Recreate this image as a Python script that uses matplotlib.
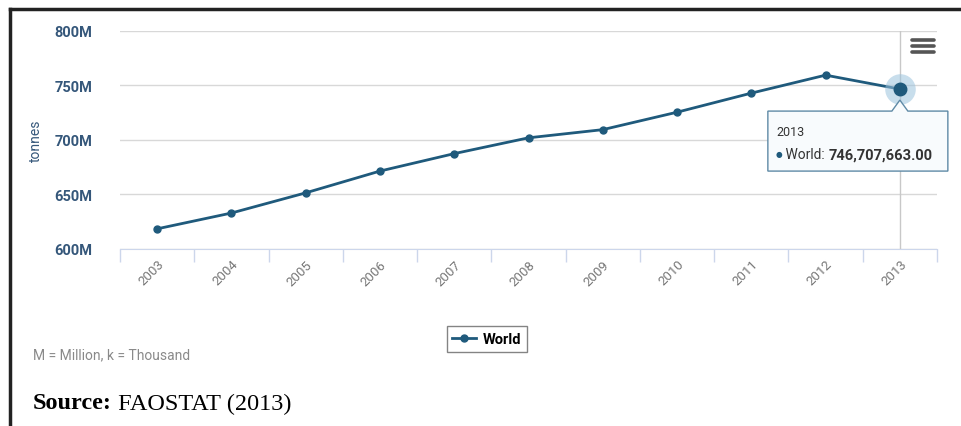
import matplotlib.pyplot as plt
import matplotlib.transforms as mtransforms
from matplotlib.patches import Polygon
from matplotlib.lines import Line2D

# data (tonnes)
years = ['2003', '2004', '2005', '2006', '2007', '2008',
         '2009', '2010', '2011', '2012', '2013']
world = [618.5e6, 633.0e6, 651.5e6, 671.5e6, 687.5e6, 702.0e6,
         709.5e6, 725.5e6, 743.0e6, 759.5e6, 746707663.0]
y_ticks = [600e6, 650e6, 700e6, 750e6, 800e6]
y_labels = ['600M', '650M', '700M', '750M', '800M']

plt.rcParams['font.family'] = ['Roboto', 'DejaVu Sans']

W, H = 961, 427
fig = plt.figure(figsize=(W / 100, H / 100), dpi=100)
ax = fig.add_axes([120 / W, 1 - 250 / H, (937 - 120) / W, (250 - 32) / H])

line_col = '#1f5a7c'
x = list(range(len(years)))
ax.plot(x, world, color=line_col, lw=2, marker='o', ms=5, label='World', zorder=3)

# hovered point (2013): crosshair + halo
hi = len(years) - 1
ax.axvline(hi, color='#c8c8c8', lw=1, zorder=1)
ax.plot([hi], [world[hi]], 'o', ms=22, color='#9cc3dd', alpha=0.55, mec='none', zorder=4)
ax.plot([hi], [world[hi]], 'o', ms=9, color=line_col, zorder=5)

ax.set_xlim(-0.5, len(years) - 0.5)
ax.set_ylim(600e6, 800e6)
ax.set_yticks(y_ticks)
ax.set_yticklabels(y_labels)
ax.set_xticks(x)
ax.set_xticklabels(years, rotation=45, ha='right', rotation_mode='anchor')
ax.set_xticks([i - 0.5 for i in range(len(years) + 1)], minor=True)

ax.grid(axis='y', color='#d8d8d8', lw=1)
ax.set_axisbelow(True)
for s in ['top', 'right', 'left']:
    ax.spines[s].set_visible(False)
ax.spines['bottom'].set_color('#ccd6eb')
ax.tick_params(axis='x', which='major', length=0, pad=6, labelsize=9.5, labelcolor='#777777')
ax.tick_params(axis='x', which='minor', length=9, color='#ccd6eb', width=1)
ax.tick_params(axis='y', length=0, pad=20, labelsize=10.5, labelcolor='#35577a')
for t in ax.get_yticklabels():
    t.set_fontweight('bold')
ax.set_ylabel('tonnes', color='#35577a', fontsize=10, labelpad=8)

# tooltip anchored to the hovered point, shape in inches
pt_trans = fig.dpi_scale_trans + mtransforms.ScaledTranslation(hi, world[hi], ax.transData)
tip = [(-1.32, -0.22), (-0.08, -0.22), (0.0, -0.11), (0.08, -0.22), (0.48, -0.22),
       (0.48, -0.82), (-1.32, -0.82)]
ax.add_patch(Polygon(tip, closed=True, transform=pt_trans, facecolor='#f8fbfd',
                     edgecolor='#5f8aa6', lw=1, zorder=6, clip_on=False))
ax.text(-1.23, -0.42, '2013', transform=pt_trans, fontsize=9, color='#333333',
        va='center', zorder=7)
dot = ax.text(-1.24, -0.65, '\u25cf', transform=pt_trans, fontsize=5.5, color=line_col,
              va='center', zorder=7)
lab = ax.annotate(' World: ', xy=(1, 0.5), xycoords=dot, fontsize=10, color='#333333',
                  va='center', zorder=7)
ax.annotate('746,707,663.00', xy=(1, 0.5), xycoords=lab, fontsize=10.5,
            fontweight='bold', color='#333333', va='center', zorder=7)

# hamburger menu icon
for yy in [41, 47, 53]:
    fig.add_artist(Line2D([912 / W, 934 / W], [1 - yy / H] * 2, color='#555555',
                          lw=2.6, solid_capstyle='round'))

leg = fig.legend(loc='center', bbox_to_anchor=(487 / W, 1 - 340 / H), fancybox=False,
                 edgecolor='#666666', handlelength=1.6, handletextpad=0.5,
                 borderpad=0.4, prop={'weight': 'bold', 'size': 10.5})
leg.get_frame().set_linewidth(1)

fig.text(33 / W, 1 - 355 / H, 'M = Million, k = Thousand', fontsize=10,
         color='#8a8a8a', va='center')
src = fig.text(33 / W, 1 - 404 / H, 'Source:', fontsize=17.5, fontweight='bold',
               family='Liberation Serif', va='center')
fig.add_artist(plt.Annotation(' FAOSTAT (2013)', xy=(1, 0.5), xycoords=src,
                              fontsize=17.5, family='Liberation Serif', va='center'))

# screenshot frame (top + left)
fig.add_artist(Line2D([10 / W, 1], [1 - 10 / H] * 2, color='#222222', lw=2.5))
fig.add_artist(Line2D([10 / W, 10 / W], [1 - 10 / H, 0], color='#222222', lw=2.5))

fig.savefig('out.png', dpi=100)
